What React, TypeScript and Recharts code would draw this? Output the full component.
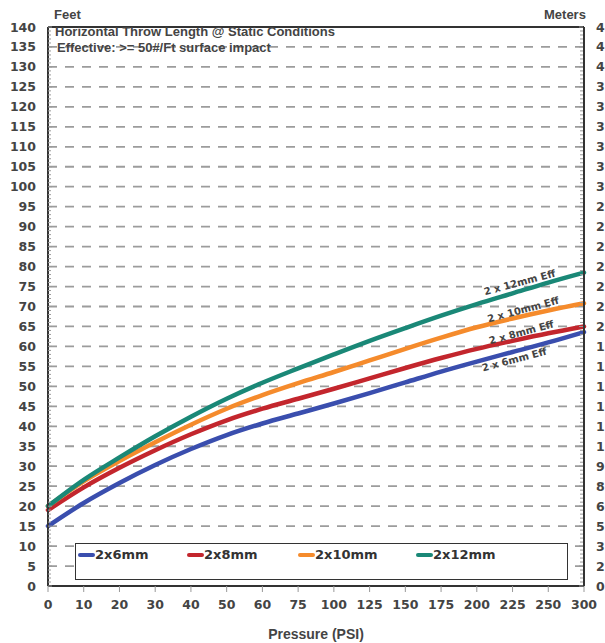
import React from "react";
import {
  LineChart,
  Line,
  XAxis,
  YAxis,
  ReferenceLine,
  ReferenceDot,
  Legend,
  Label,
} from "recharts";

// x axis is not linear: 10 psi steps, then 25 psi steps, then 50
const pressureLabels = ["0", "10", "20", "30", "40", "50", "60", "75", "100", "125", "150", "175", "200", "225", "250", "300"];

// throw length in feet, read at each pressure tick
const throw2x6 = [15, 20.8, 25.8, 30.3, 34.3, 37.8, 40.7, 43.2, 45.7, 48.3, 51, 53.7, 56.2, 58.6, 61, 63.6];
const throw2x8 = [19, 24.7, 29.6, 34, 38, 41.5, 44.4, 46.9, 49.4, 52, 54.6, 57.1, 59.4, 61.4, 63.3, 65];
const throw2x10 = [20, 26.2, 31.3, 36, 40.4, 44.4, 47.8, 50.8, 53.6, 56.5, 59.4, 62.2, 64.8, 67, 69, 70.8];
const throw2x12 = [20, 26.6, 32.2, 37.5, 42.4, 46.9, 50.9, 54.5, 58, 61.4, 64.6, 67.7, 70.6, 73.3, 76, 78.5];

const series = [
  { key: "s6", name: "2x6mm", label: "2 x 6mm Eff", color: "#3a4eae", values: throw2x6 },
  { key: "s8", name: "2x8mm", label: "2 x 8mm Eff", color: "#c3262d", values: throw2x8 },
  { key: "s10", name: "2x10mm", label: "2 x 10mm Eff", color: "#f58b2c", values: throw2x10 },
  { key: "s12", name: "2x12mm", label: "2 x 12mm Eff", color: "#1a8877", values: throw2x12 },
];

// where the "Eff" annotations sit (index on x, feet on y)
const curveLabelPos = [
  { x: 13.05, y: 56.6 },
  { x: 13.25, y: 63.4 },
  { x: 13.3, y: 69.1 },
  { x: 13.2, y: 75.9 },
];

const FEET_MAX = 140;
const feetMinor = Array.from({ length: 141 }, (_, i) => i);
const feetGrid = Array.from({ length: 27 }, (_, i) => (i + 1) * 5);

const data = pressureLabels.map((p, i) => ({
  idx: i,
  psi: p,
  s6: throw2x6[i],
  s8: throw2x8[i],
  s10: throw2x10[i],
  s12: throw2x12[i],
}));

const tickFont = "'DejaVu Sans', Verdana, sans-serif";
const headFont = "'Liberation Sans', Arial, sans-serif";
const frame = { stroke: "#333", strokeWidth: 2 };

function FeetTick(props: any) {
  const { x, y, payload } = props;
  const v = payload.value;
  const major = v % 5 === 0;
  return (
    <g>
      <line x1={x + 12} x2={x + (major ? 16 : 15)} y1={y} y2={y} stroke="#999" strokeWidth={1} />
      {major && (
        <text x={x} y={y} dy={4.5} textAnchor="end" fill="#444" fontFamily={tickFont} fontWeight="bold" fontSize={12.5}>
          {v}
        </text>
      )}
    </g>
  );
}

function MeterTick(props: any) {
  const { x, y, payload } = props;
  const v = payload.value;
  const major = v % 5 === 0;
  return (
    <g>
      <line x1={x - 13} x2={x - (major ? 17 : 16)} y1={y} y2={y} stroke="#999" strokeWidth={1} />
      {major && (
        <text x={x} y={y} dy={4.5} textAnchor="start" fill="#444" fontFamily={tickFont} fontWeight="bold" fontSize={12.5}>
          {Math.round(v * 0.3048)}
        </text>
      )}
    </g>
  );
}

const legendOffsets = [2, 111, 222, 340];

function LegendBox() {
  return (
    <div
      style={{
        position: "relative",
        width: 493,
        height: 37,
        border: "1.5px solid #333",
        boxSizing: "border-box",
        background: "#fff",
      }}
    >
      {series.map((s, i) => (
        <div
          key={s.key}
          style={{
            position: "absolute",
            left: legendOffsets[i],
            top: 2,
            display: "flex",
            alignItems: "center",
            height: 17,
          }}
        >
          <span style={{ display: "inline-block", width: 17, height: 4, borderRadius: 2, background: s.color }} />
          <span style={{ fontFamily: tickFont, fontWeight: "bold", fontSize: 13, color: "#333" }}>{s.name}</span>
        </div>
      ))}
    </div>
  );
}

export default function App() {
  return (
    <div style={{ position: "absolute", left: 0, top: 0, width: 605, height: 643, background: "#fff", overflow: "hidden" }}>
      <div style={{ position: "absolute", left: 54, top: 7, fontFamily: headFont, fontWeight: "bold", fontSize: 13, color: "#444" }}>Feet</div>
      <div style={{ position: "absolute", left: 544, top: 7, fontFamily: headFont, fontWeight: "bold", fontSize: 13, color: "#444" }}>Meters</div>
      <LineChart width={605} height={643} data={data} margin={{ top: 27, right: 0, left: 0, bottom: 0 }}>
        <XAxis
          dataKey="idx"
          type="number"
          domain={[0, 15]}
          ticks={pressureLabels.map((_, i) => i)}
          interval={0}
          tickFormatter={(i: number) => pressureLabels[i]}
          axisLine={frame}
          tickLine={{ stroke: "#999" }}
          tickSize={6}
          tickMargin={8}
          height={57}
          tick={{ fill: "#444", fontFamily: tickFont, fontWeight: "bold", fontSize: 12.5 }}
        >
          <Label
            value="Pressure (PSI)"
            position="insideBottom"
            offset={4}
            fill="#444"
            style={{ fontFamily: headFont, fontWeight: "bold", fontSize: 14 }}
          />
        </XAxis>
        <YAxis
          yAxisId="ft"
          orientation="left"
          width={48}
          domain={[0, FEET_MAX]}
          ticks={feetMinor}
          interval={0}
          axisLine={frame}
          tickLine={false}
          tickSize={6}
          tickMargin={6}
          tick={<FeetTick />}
        />
        <YAxis
          yAxisId="m"
          orientation="right"
          width={21}
          domain={[0, FEET_MAX]}
          ticks={feetMinor}
          interval={0}
          axisLine={frame}
          tickLine={false}
          tickSize={6}
          tickMargin={6}
          tick={<MeterTick />}
        />
        {/* dashed rows every 5 ft */}
        {feetGrid.map((v) => (
          <ReferenceLine
            key={"g" + v}
            yAxisId="ft"
            y={v}
            stroke="#9c9c9c"
            strokeDasharray="9 8"
            strokeWidth={1.8}
          />
        ))}
        {/* top edge of the frame */}
        <ReferenceLine yAxisId="ft" y={FEET_MAX} stroke="#333" strokeWidth={2} />
        <Legend
          layout="horizontal"
          verticalAlign="middle"
          align="center"
          content={() => <LegendBox />}
          wrapperStyle={{ left: 75, top: 543, width: 493, height: 37 }}
        />
        {/* invisible copy so the metre axis has data bound to it */}
        <Line yAxisId="m" dataKey="s12" stroke="none" strokeWidth={0} dot={false} activeDot={false} legendType="none" isAnimationActive={false} />
        {series.map((s) => (
          <Line
            key={s.key}
            yAxisId="ft"
            type="monotone"
            dataKey={s.key}
            name={s.name}
            stroke={s.color}
            strokeWidth={4.5}
            strokeLinecap="round"
            dot={false}
            activeDot={false}
            isAnimationActive={false}
          />
        ))}
        {series.map((s, i) => (
          <ReferenceDot
            key={"lbl" + s.key}
            yAxisId="ft"
            x={curveLabelPos[i].x}
            y={curveLabelPos[i].y}
            r={0}
            shape={(p: any) => (
              <text
                x={p.cx}
                y={p.cy}
                textAnchor="middle"
                dominantBaseline="middle"
                transform={`rotate(-15 ${p.cx} ${p.cy})`}
                fill="#444"
                fontFamily={tickFont}
                fontWeight="bold"
                fontSize={10}
              >
                {s.label}
              </text>
            )}
          />
        ))}
      </LineChart>
      <div style={{ position: "absolute", left: 55, top: 24, fontFamily: headFont, fontWeight: "bold", fontSize: 13, color: "#444", lineHeight: "15px" }}>
        Horizontal Throw Length @ Static Conditions
      </div>
      <div style={{ position: "absolute", left: 57, top: 40, fontFamily: headFont, fontWeight: "bold", fontSize: 13, color: "#444", lineHeight: "15px" }}>
        Effective: &gt;= 50#/Ft surface impact
      </div>
    </div>
  );
}
